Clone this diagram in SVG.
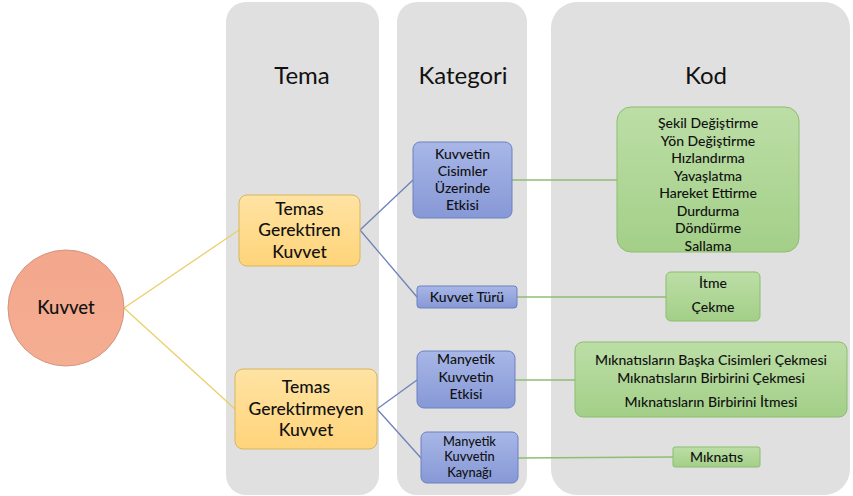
<svg xmlns="http://www.w3.org/2000/svg" width="853" height="496" viewBox="0 0 853 496">
<defs>
<linearGradient id="gY" x1="0" y1="0" x2="0" y2="1"><stop offset="0" stop-color="#ffe3a3"/><stop offset="1" stop-color="#ffd47a"/></linearGradient>
<linearGradient id="gB" x1="0" y1="0" x2="0" y2="1"><stop offset="0" stop-color="#a8b7e7"/><stop offset="1" stop-color="#8698d6"/></linearGradient>
<linearGradient id="gG" x1="0" y1="0" x2="0" y2="1"><stop offset="0" stop-color="#bcdea6"/><stop offset="1" stop-color="#a3cf88"/></linearGradient>
<linearGradient id="gR" x1="0" y1="0" x2="0" y2="1"><stop offset="0" stop-color="#f3a78c"/><stop offset="1" stop-color="#f5ae92"/></linearGradient>
</defs>
<style>
.panel{fill:#e0e0e0;}
.hdr{font-family:Lato,"Open Sans",sans-serif;font-size:24px;fill:#111;text-anchor:middle;}
.t{font-family:Lato,"Open Sans",sans-serif;fill:#111;text-anchor:middle;font-weight:500;}
.big{font-size:17.5px;}
.circ{font-size:18.5px;}
.sm{font-size:14px;}
.xs{font-size:12.8px;}
.y{fill:url(#gY);stroke:#d6b65e;stroke-width:1;}
.b{fill:url(#gB);stroke:#6c80c0;stroke-width:1;}
.g{fill:url(#gG);stroke:#8dbd70;stroke-width:1;}
.cy{stroke:#ebcf68;stroke-width:1.3;fill:none;}
.cb{stroke:#6e81b8;stroke-width:1.3;fill:none;}
.cg{stroke:#8fbd74;stroke-width:1.3;fill:none;}
</style>
<rect width="853" height="496" fill="#ffffff"/>
<g id="panels">
<rect class="panel" x="226" y="2" width="153" height="493" rx="20"/>
<rect class="panel" x="397" y="2" width="130" height="493" rx="20"/>
<rect class="panel" x="551" y="2" width="299" height="493" rx="26"/>
<text class="hdr" x="302" y="84">Tema</text>
<text class="hdr" x="463" y="84">Kategori</text>
<text class="hdr" x="706" y="84">Kod</text>
</g>
<g id="connectors">
<line class="cy" x1="124" y1="308" x2="239" y2="230"/>
<line class="cy" x1="124" y1="308" x2="235" y2="409"/>
<line class="cb" x1="360" y1="230" x2="413" y2="180"/>
<line class="cb" x1="360" y1="230" x2="417" y2="297"/>
<line class="cb" x1="377" y1="409" x2="417" y2="380"/>
<line class="cb" x1="377" y1="409" x2="421" y2="458"/>
<line class="cg" x1="512" y1="180" x2="617" y2="180"/>
<line class="cg" x1="517" y1="297" x2="666" y2="297"/>
<line class="cg" x1="515" y1="380" x2="575" y2="380"/>
<line class="cg" x1="518" y1="458" x2="673" y2="457"/>
</g>
<g id="kuvvet">
<circle cx="66" cy="308" r="58" fill="url(#gR)" stroke="#d29581" stroke-width="1"/>
<text class="t circ" x="66" y="314">Kuvvet</text>
</g>
<g id="temas-gerektiren">
<rect class="y" x="239" y="195" width="121" height="71" rx="8"/>
<text class="t big" x="299.5" y="214.5">Temas</text>
<text class="t big" x="299.5" y="236">Gerektiren</text>
<text class="t big" x="299.5" y="257.5">Kuvvet</text>
</g>
<g id="temas-gerektirmeyen">
<rect class="y" x="235" y="369" width="142" height="80" rx="8"/>
<text class="t big" x="306" y="393">Temas</text>
<text class="t big" x="306" y="414.5">Gerektirmeyen</text>
<text class="t big" x="306" y="436">Kuvvet</text>
</g>
<g id="kuvvetin-cisimler">
<rect class="b" x="413" y="142" width="99" height="76" rx="7"/>
<text class="t sm" x="462.5" y="159">Kuvvetin</text>
<text class="t sm" x="462.5" y="176">Cisimler</text>
<text class="t sm" x="462.5" y="193">Üzerinde</text>
<text class="t sm" x="462.5" y="210">Etkisi</text>
</g>
<g id="kuvvet-turu">
<rect class="b" x="417" y="286" width="100" height="22" rx="3"/>
<text class="t sm" x="467" y="302">Kuvvet Türü</text>
</g>
<g id="manyetik-etkisi">
<rect class="b" x="417" y="351" width="98" height="57" rx="7"/>
<text class="t sm" x="466" y="364">Manyetik</text>
<text class="t sm" x="466" y="381.5">Kuvvetin</text>
<text class="t sm" x="466" y="399">Etkisi</text>
</g>
<g id="manyetik-kaynagi">
<rect class="b" x="421" y="432" width="97" height="51" rx="6"/>
<text class="t xs" x="469.5" y="445.5">Manyetik</text>
<text class="t xs" x="469.5" y="461">Kuvvetin</text>
<text class="t xs" x="469.5" y="476.5">Kaynağı</text>
</g>
<g id="kod-etkiler">
<rect class="g" x="617" y="107" width="182" height="145" rx="14"/>
<text class="t sm" x="708" y="128">Şekil Değiştirme</text>
<text class="t sm" x="708" y="145.5">Yön Değiştirme</text>
<text class="t sm" x="708" y="163">Hızlandırma</text>
<text class="t sm" x="708" y="180.5">Yavaşlatma</text>
<text class="t sm" x="708" y="198">Hareket Ettirme</text>
<text class="t sm" x="708" y="215.5">Durdurma</text>
<text class="t sm" x="708" y="233">Döndürme</text>
<text class="t sm" x="708" y="250.5">Sallama</text>
</g>
<g id="kod-tur">
<rect class="g" x="666" y="272" width="94" height="49" rx="5"/>
<text class="t sm" x="713" y="288">İtme</text>
<text class="t sm" x="713" y="312">Çekme</text>
</g>
<g id="kod-manyetik">
<rect class="g" x="575" y="342" width="272" height="75" rx="8"/>
<text class="t sm" x="711" y="365">Mıknatısların Başka Cisimleri Çekmesi</text>
<text class="t sm" x="711" y="382.5">Mıknatısların Birbirini Çekmesi</text>
<text class="t sm" x="711" y="407">Mıknatısların Birbirini İtmesi</text>
</g>
<g id="kod-miknatis">
<rect class="g" x="673" y="447" width="87" height="20" rx="2"/>
<text class="t sm" x="716.5" y="462">Mıknatıs</text>
</g>
</svg>
